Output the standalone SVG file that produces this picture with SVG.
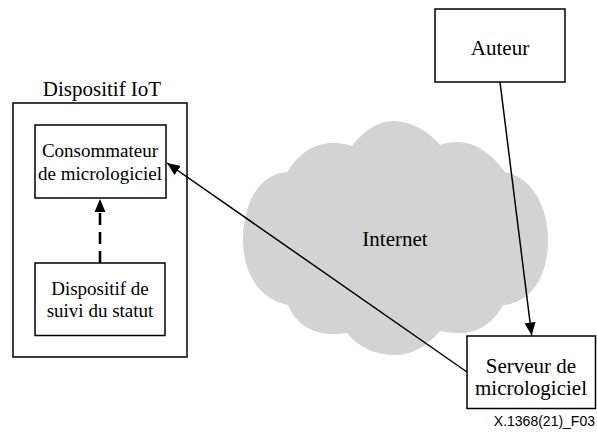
<svg xmlns="http://www.w3.org/2000/svg" width="597" height="432" viewBox="0 0 597 432">
  <style>
    .box { fill: #ffffff; stroke: #000000; stroke-width: 1.5; }
    .lbl { fill: #000000; text-anchor: middle; }
    .big { font-size: 21px; }
    .small { font-size: 19px; }
    .conn { fill: none; stroke: #000000; stroke-width: 1.5; }
    .dash { fill: none; stroke: #000000; stroke-width: 2.6; stroke-dasharray: 12 7; }
    .ref { font-size: 14px; fill: #000000; text-anchor: end; }
  </style>
  <defs>
    <marker id="head" markerUnits="userSpaceOnUse" markerWidth="13" markerHeight="11" refX="13" refY="5.5" orient="auto">
      <path d="M0,0 L13,5.5 L0,11 z" fill="#000000"/>
    </marker>
  </defs>
  <rect width="597" height="432" fill="#ffffff"/>

  <g font-family="Liberation Serif, DejaVu Serif, serif">
    <!-- Internet cloud -->
    <g id="internet">
      <path fill="#d3d3d3" d="M243,240
        C243,202 260,174 287,172
        C300,152 315,143 333,143 C341,143 347,144 352,146
        C364,130 379,121 393,121 C411,121 428,131 440,145
        C445,143 450,142 457,142 C476,142 493,155 505,172
        C531,177 548,205 548,240
        C548,278 530,303 503,305
        C494,323 477,333 460,333 C452,333 446,332 440,331
        C426,347 411,355 395,355 C375,355 358,347 347,333
        C341,334 336,334 331,334 C311,334 295,322 288,305
        C261,300 243,275 243,240 Z"/>
      <text class="lbl big" x="395" y="246">Internet</text>
    </g>

    <!-- IoT device container -->
    <g id="iot-device">
      <text class="lbl big" x="102" y="96">Dispositif IoT</text>
      <rect class="box" x="13" y="103" width="174" height="254"/>
    </g>

    <g id="consumer">
      <rect class="box" x="35" y="125" width="131" height="73"/>
      <text class="lbl small" x="100" y="157">Consommateur</text>
      <text class="lbl small" x="100" y="180">de micrologiciel</text>
    </g>

    <g id="status-tracker">
      <rect class="box" x="35" y="263" width="130" height="72.5"/>
      <text class="lbl small" x="100" y="295">Dispositif de</text>
      <text class="lbl small" x="100" y="317">suivi du statut</text>
    </g>

    <g id="author">
      <rect class="box" x="435" y="9" width="130" height="73"/>
      <text class="lbl big" x="500" y="55">Auteur</text>
    </g>

    <g id="firmware-server">
      <rect class="box" x="467" y="336" width="128.5" height="72.5"/>
      <text class="lbl big" x="531" y="373">Serveur de</text>
      <text class="lbl big" x="531" y="395">micrologiciel</text>
    </g>
  </g>

  <!-- connectors -->
  <g id="connectors">
    <line class="dash" x1="100" y1="263" x2="100" y2="212"/>
    <path d="M94.5,212 L100,199 L105.5,212 z" fill="#000000"/>
    <line class="conn" x1="500" y1="82" x2="531.7" y2="335.5" marker-end="url(#head)"/>
    <line class="conn" x1="467" y1="372" x2="167" y2="163" marker-end="url(#head)"/>
  </g>

  <text class="ref" font-family="Liberation Sans, Arial, sans-serif" x="595" y="426">X.1368(21)_F03</text>
</svg>
